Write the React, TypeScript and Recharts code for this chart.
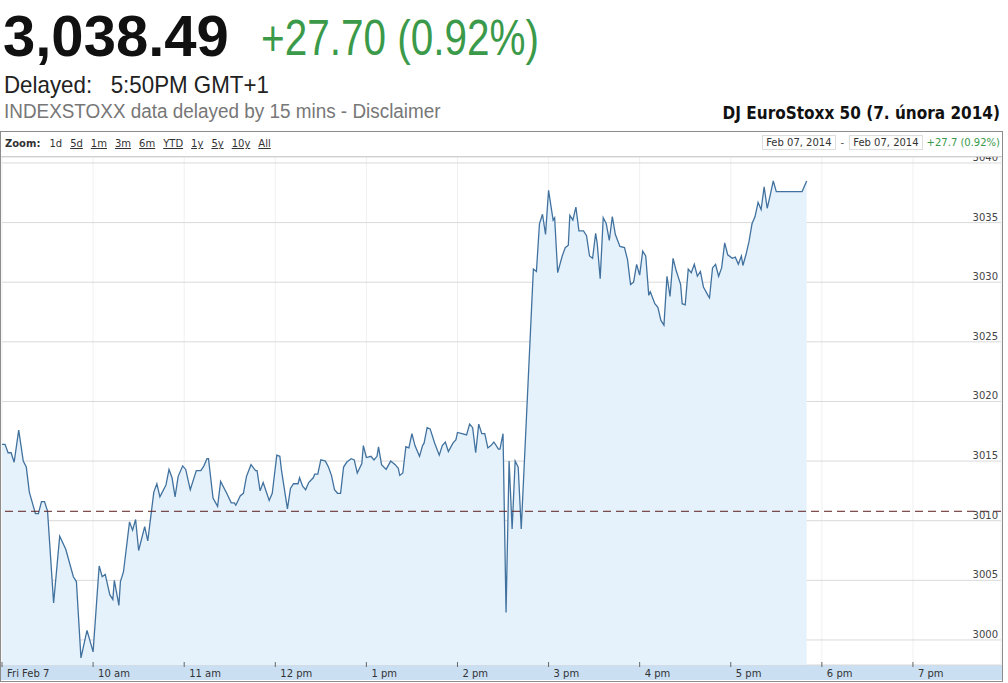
import React from "react"
import { ComposedChart, Area, XAxis, YAxis, CartesianGrid, ReferenceLine } from "recharts"

// minutes after 9:00 CET, Fri 7 Feb 2014
const morningMinutes = [0, 2, 4, 6, 8, 11, 14, 16, 18, 22, 24, 26, 28, 30, 34, 38, 42, 47, 49, 52, 56, 60, 64, 66, 68, 71, 73, 74, 77, 78, 80, 84, 86, 88, 90, 94, 96, 100, 102, 104, 108]
const morningPrices = [3016.4, 3016.4, 3015.7, 3015.7, 3014.9, 3017.6, 3015.0, 3014.5, 3012.4, 3010.6, 3010.6, 3011.6, 3011.6, 3010.8, 3003.1, 3008.7, 3007.6, 3005.3, 3004.9, 2998.5, 3000.8, 2999.0, 3006.2, 3005.3, 3005.5, 3003.8, 3003.4, 3005.0, 3002.9, 3004.9, 3005.7, 3009.9, 3009.2, 3010.1, 3007.5, 3009.5, 3008.3, 3012.4, 3013.1, 3012.0, 3013.0]

const middayMinutes = [110, 112, 114, 116, 119, 121, 124, 128, 131, 133, 135, 136, 139, 142, 144, 148, 151, 153, 154, 157, 159, 161, 164, 167, 168, 170, 172, 176, 178, 181, 183, 184, 188, 190, 192, 195, 196, 198, 200, 202, 205, 206, 208, 210, 213, 215, 217, 219, 221, 223]
const middayPrices = [3014.3, 3013.6, 3012.0, 3013.7, 3014.6, 3014.3, 3012.6, 3014.2, 3014.2, 3014.6, 3015.2, 3015.2, 3011.9, 3011.2, 3013.3, 3012.3, 3011.5, 3011.5, 3011.3, 3012.1, 3012.3, 3013.7, 3014.7, 3014.2, 3014.2, 3012.5, 3013.2, 3011.7, 3012.3, 3015.5, 3015.4, 3014.3, 3011.0, 3012.7, 3013.1, 3013.1, 3013.6, 3012.9, 3012.6, 3013.2, 3013.6, 3013.9, 3013.9, 3015.1, 3015.0, 3014.5, 3013.8, 3012.6, 3012.3, 3012.3]

const afternoonMinutes = [225, 227, 230, 232, 234, 237, 238, 240, 243, 245, 247, 248, 250, 253, 256, 259, 261, 262, 264, 266, 268, 270, 272, 275, 277, 278, 280, 282, 285, 288, 290, 292, 294, 297, 299, 300, 303, 306, 308, 310, 312, 314, 316, 318, 320, 322, 324, 327, 328, 330, 332, 334, 336, 338, 340, 342]
const afternoonPrices = [3014.5, 3014.9, 3015.2, 3015.1, 3014.0, 3014.8, 3016.3, 3015.3, 3015.4, 3015.1, 3015.4, 3016.2, 3014.7, 3014.3, 3015.0, 3014.7, 3014.4, 3013.8, 3014.0, 3016.2, 3016.1, 3017.3, 3016.3, 3015.4, 3016.3, 3016.5, 3017.8, 3017.7, 3016.5, 3015.5, 3016.3, 3016.6, 3015.8, 3016.5, 3016.8, 3017.4, 3017.3, 3017.2, 3018.1, 3017.8, 3015.7, 3018.1, 3017.3, 3017.3, 3016.1, 3016.3, 3016.6, 3016.0, 3016.0, 3017.3, 3002.3, 3015.0, 3009.3, 3015.0, 3014.5, 3009.3]

const closeMinutes = [350, 352, 354, 356, 358, 360, 363, 364, 366, 369, 371, 373, 374, 376, 378, 380, 383, 385, 387, 389, 391, 392, 394, 396, 398, 400, 402, 404, 407, 410, 412, 414, 416, 418, 420, 422, 424, 426, 427, 430, 432, 434, 436, 438, 440, 442, 444, 447, 448, 450, 452, 454, 456, 458, 460, 462, 465, 466, 468, 470, 472, 474, 476, 478, 481, 483, 485, 487, 488, 490, 492, 494, 496, 498, 500, 502, 504, 506, 508, 510, 527, 530]
const closePrices = [3031.1, 3030.9, 3034.9, 3035.7, 3034.0, 3037.7, 3035.2, 3035.4, 3030.8, 3032.2, 3032.9, 3033.1, 3035.6, 3035.2, 3036.3, 3034.3, 3034.3, 3033.9, 3032.2, 3032.0, 3034.1, 3033.3, 3030.3, 3035.4, 3034.9, 3033.5, 3035.5, 3034.0, 3033.0, 3032.9, 3031.9, 3029.8, 3030.0, 3031.5, 3030.6, 3032.6, 3032.2, 3028.9, 3029.2, 3028.2, 3027.9, 3026.8, 3026.4, 3030.5, 3028.8, 3032.0, 3031.0, 3029.8, 3028.2, 3028.1, 3031.1, 3030.8, 3031.5, 3030.5, 3030.9, 3029.6, 3028.9, 3028.7, 3031.2, 3031.5, 3030.5, 3031.2, 3033.3, 3032.3, 3032.0, 3032.1, 3031.5, 3032.2, 3031.4, 3032.3, 3033.4, 3034.9, 3035.5, 3036.7, 3036.1, 3038.0, 3036.2, 3037.3, 3038.5, 3037.6, 3037.6, 3038.49]

const previousClose = 3010.79
const hourTicks = [0, 60, 120, 180, 240, 300, 360, 420, 480, 540, 600]
const hourLabels = ["Fri Feb 7", "10 am", "11 am", "12 pm", "1 pm", "2 pm", "3 pm", "4 pm", "5 pm", "6 pm", "7 pm"]
const priceTicks = [3000, 3005, 3010, 3015, 3020, 3025, 3030, 3035, 3040]
const zoomLinks = ["1d", "5d", "1m", "3m", "6m", "YTD", "1y", "5y", "10y", "All"]

const minutes = [...morningMinutes, ...middayMinutes, ...afternoonMinutes, ...closeMinutes]
const prices = [...morningPrices, ...middayPrices, ...afternoonPrices, ...closePrices]
const data = minutes.map((t, i) => ({ t, price: prices[i] }))

const GREEN = "#3a9a4a"
const AXIS_FONT = "'DejaVu Sans', Verdana, sans-serif"
const TITLE_FONT = "'DejaVu Sans Condensed', 'DejaVu Sans', Tahoma, sans-serif"

function HourTick(props: any) {
  const { x, y, payload } = props
  const label = hourLabels[hourTicks.indexOf(payload.value)]
  return (
    <g>
      <line x1={x} x2={x} y1={y - 3} y2={y + 2} stroke="#666" />
      <text x={x + 5} y={y + 12} fontSize={10} fill="#333" fontFamily={AXIS_FONT}>
        {label}
      </text>
    </g>
  )
}

// right axis sits just outside the plot, labels are pulled back inside it
function PriceTick(props: any) {
  const { x, y, payload } = props
  return (
    <text x={x - 3} y={y - 2} textAnchor="end" fontSize={10} fill="#444" fontFamily={AXIS_FONT}>
      {payload.value}
    </text>
  )
}

const dateBox: React.CSSProperties = {
  border: "1px solid #ddd",
  padding: "1px 3px",
  color: "#333",
}

export default function App() {
  return (
    <div
      style={{
        position: "absolute",
        left: 0,
        top: 0,
        width: 1008,
        height: 683,
        background: "#fff",
        fontFamily: "'Liberation Sans', Arial, sans-serif",
        overflow: "hidden",
      }}
    >
      <div style={{ position: "absolute", left: 3, top: 7, fontSize: 58, lineHeight: "58px", fontWeight: 700, color: "#111", whiteSpace: "nowrap" }}>
        3,038.49
      </div>
      <div
        style={{
          position: "absolute",
          left: 261,
          top: 13,
          fontSize: 50,
          lineHeight: "50px",
          color: GREEN,
          whiteSpace: "nowrap",
          transform: "scaleX(0.81)",
          transformOrigin: "left top",
        }}
      >
        +27.70 (0.92%)
      </div>
      <div
        style={{
          position: "absolute",
          left: 4,
          top: 73,
          fontSize: 24,
          lineHeight: "24px",
          color: "#222",
          whiteSpace: "pre",
          transform: "scaleX(0.93)",
          transformOrigin: "left top",
        }}
      >
        {"Delayed:   5:50PM GMT+1"}
      </div>
      <div
        style={{
          position: "absolute",
          left: 4,
          top: 101,
          fontSize: 20,
          lineHeight: "20px",
          color: "#777",
          whiteSpace: "nowrap",
          transform: "scaleX(0.945)",
          transformOrigin: "left top",
        }}
      >
        INDEXSTOXX data delayed by 15 mins - Disclaimer
      </div>
      <div
        style={{
          position: "absolute",
          right: 8,
          top: 105,
          fontSize: 17,
          lineHeight: "17px",
          fontWeight: 700,
          fontFamily: TITLE_FONT,
          color: "#111",
          whiteSpace: "nowrap",
        }}
      >
        DJ EuroStoxx 50 (7. února 2014)
      </div>

      <div
        style={{
          position: "absolute",
          left: 0,
          top: 131,
          width: 1003,
          height: 551,
          boxSizing: "border-box",
          border: "1px solid #8c8c8c",
        }}
      />
      <div
        style={{
          position: "absolute",
          left: 1,
          top: 132,
          width: 1001,
          height: 25,
          boxSizing: "border-box",
          borderBottom: "1px solid #d0d0d0",
          fontFamily: AXIS_FONT,
          fontSize: 10,
          color: "#333",
          background: "#fff",
          zIndex: 2,
        }}
      >
        <div style={{ position: "absolute", left: 4, top: 6, whiteSpace: "nowrap" }}>
          <span style={{ fontWeight: 700 }}>Zoom:</span>
          {zoomLinks.map((z, i) => (
            <span key={z} style={{ marginLeft: i === 0 ? 9 : 8, textDecoration: i === 0 ? "none" : "underline", color: "#333" }}>
              {z}
            </span>
          ))}
        </div>
        <div style={{ position: "absolute", right: 2, top: 5, whiteSpace: "nowrap" }}>
          <span style={dateBox}>Feb 07, 2014</span>
          <span style={{ margin: "0 5px", color: "#555" }}>-</span>
          <span style={dateBox}>Feb 07, 2014</span>
          <span style={{ marginLeft: 4, color: GREEN }}>+27.7 (0.92%)</span>
        </div>
      </div>

      <div style={{ position: "absolute", left: 1, top: 665, width: 1001, height: 15, background: "#cadff2" }} />

      <div style={{ position: "absolute", left: 0, top: 157 }}>
        <ComposedChart width={1033} height={524} data={data} margin={{ top: 0, right: 2, bottom: 0, left: 2 }} style={{ overflow: "visible" }}>
          <CartesianGrid horizontal={false} stroke="#f0f0f0" />
          <CartesianGrid vertical={false} stroke="#d9d9d9" />
          <XAxis
            dataKey="t"
            type="number"
            domain={[0, 658]}
            ticks={hourTicks}
            interval={0}
            height={16}
            axisLine={false}
            tickLine={false}
            tickSize={0}
            tickMargin={0}
            tick={<HourTick />}
          />
          <YAxis
            orientation="right"
            width={30}
            type="number"
            domain={[2997.9, 3040.5]}
            allowDataOverflow
            ticks={priceTicks}
            interval={0}
            axisLine={false}
            tickLine={false}
            tickSize={0}
            tickMargin={0}
            tick={<PriceTick />}
          />
          <Area
            type="linear"
            dataKey="price"
            stroke="#41729f"
            strokeWidth={1.3}
            fill="#e6f2fb"
            fillOpacity={1}
            dot={false}
            activeDot={false}
            isAnimationActive={false}
          />
          <ReferenceLine y={previousClose} stroke="#5e1f1f" strokeDasharray="8 5" />
        </ComposedChart>
      </div>
    </div>
  )
}
